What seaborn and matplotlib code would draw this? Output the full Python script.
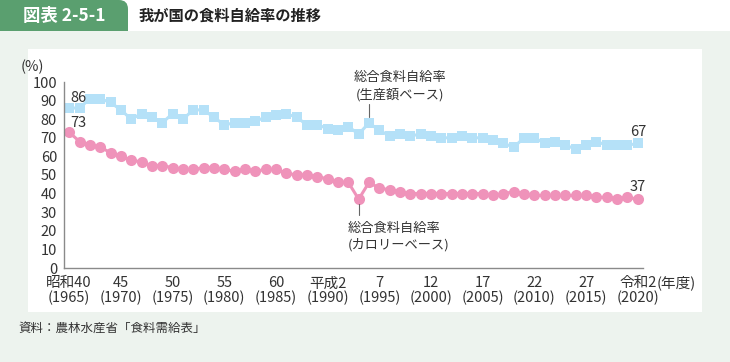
import matplotlib

matplotlib.use("Agg")
import matplotlib.pyplot as plt
import seaborn as sns
from matplotlib.patches import PathPatch, Rectangle
from matplotlib.path import Path
from matplotlib.ticker import FixedLocator

# Data (fiscal years, %)
years = list(range(1965, 2021))
production_basis = [
    86, 86, 91, 91, 89, 85, 80, 83, 81, 78,
    83, 80, 85, 85, 81, 77, 78, 78, 79, 81,
    82, 83, 81, 77, 77, 75, 74, 76, 72, 78,
    74, 71, 72, 71, 72, 71, 70, 70, 71, 70,
    70, 69, 67, 65, 70, 70, 67, 68, 66, 64,
    66, 68, 66, 66, 66, 67,
]
calorie_basis = [
    73, 68, 66, 65, 62, 60, 58, 57, 55, 55,
    54, 53, 53, 54, 54, 53, 52, 53, 52, 53,
    53, 51, 50, 50, 49, 48, 46, 46, 37, 46,
    43, 42, 41, 40, 40, 40, 40, 40, 40, 40,
    40, 39, 40, 41, 40, 39, 39, 39, 39, 39,
    39, 38, 38, 37, 38, 37,
]
label_years = [1965, 1970, 1975, 1980, 1985, 1990, 1995, 2000, 2005, 2010, 2015, 2020]
era_labels = ["昭和40", "45", "50", "55", "60", "平成2", "7", "12", "17", "22", "27", "令和2"]

BLUE = "#b5e1f8"
PINK = "#ef93ba"
GREEN = "#5a9f6f"
BG = "#edf3ee"
TEXT = "#333333"
AXIS = "#8a8a8a"

sns.set_style("white")
plt.rcParams["font.family"] = ["Noto Sans CJK JP", "DejaVu Sans"]

W, H = 730, 362
fig = plt.figure(figsize=(W / 100, H / 100), dpi=100, facecolor=BG)


def px(x, y):
    return x / W, 1 - y / H


# white header strip, tab, white chart panel
fig.patches.append(Rectangle(px(0, 31), 1, 31 / H, transform=fig.transFigure,
                             facecolor="white", edgecolor="none", zorder=0))
r = 9
verts = [px(0, 31), px(0, 0), px(128 - r, 0), px(128, 0), px(128, r), px(128, 31), px(0, 31)]
codes = [Path.MOVETO, Path.LINETO, Path.LINETO, Path.CURVE3, Path.CURVE3, Path.LINETO, Path.CLOSEPOLY]
fig.patches.append(PathPatch(Path(verts, codes), transform=fig.transFigure,
                             facecolor=GREEN, edgecolor="none", zorder=1))
fig.patches.append(Rectangle(px(28, 312), 674 / W, 263 / H, transform=fig.transFigure,
                             facecolor="white", edgecolor="none", zorder=0))

fig.text(*px(64, 16), "図表 2-5-1", color="white", fontsize=12.5, fontweight="bold",
         ha="center", va="center", zorder=3)
fig.text(*px(139, 16), "我が国の食料自給率の推移", color="#222222", fontsize=11,
         fontweight="bold", ha="left", va="center", zorder=3)
fig.text(*px(18, 328), "資料：農林水産省「食料需給表」", color=TEXT, fontsize=9,
         ha="left", va="center", zorder=3)

# axes: x from 64px to 643px, y 0 at 268px, 100 at 82px
ax = fig.add_axes([64 / W, 1 - 268 / H, 579 / W, 186 / H])
ax.set_zorder(5)
ax.set_facecolor("none")

sns.lineplot(x=years, y=production_basis, ax=ax, color=BLUE, linewidth=2.2,
             marker="s", markersize=7, markeredgewidth=0, clip_on=False)
sns.lineplot(x=years, y=calorie_basis, ax=ax, color=PINK, linewidth=2.2,
             marker="o", markersize=8, markeredgewidth=0, clip_on=False)

ax.set_xlim(1964.5, 2020.5)
ax.set_ylim(0, 100)
ax.set_xlabel("")
ax.set_ylabel("")

for s in ["top", "right"]:
    ax.spines[s].set_visible(False)
for s in ["left", "bottom"]:
    ax.spines[s].set_color(AXIS)
    ax.spines[s].set_linewidth(1.0)

ax.set_yticks(range(0, 101, 10))
ax.tick_params(axis="y", direction="out", length=3, width=0.8, color=AXIS,
               labelsize=10.5, labelcolor=TEXT, pad=2)
ax.set_xticks(label_years)
ax.set_xticklabels([f"{e}\n({y})" for e, y in zip(era_labels, label_years)],
                   linespacing=1.0)
ax.tick_params(axis="x", which="major", length=0, labelsize=10.5,
               labelcolor=TEXT, pad=6)
ax.xaxis.set_minor_locator(FixedLocator([y + 0.5 for y in years[:-1]] + [2020.5]))
ax.tick_params(axis="x", which="minor", direction="in", length=3, width=0.8,
               color=AXIS)

ax.text(-0.055, 1.08, "(%)", transform=ax.transAxes, fontsize=10.5, color=TEXT,
        ha="center", va="center")
ax.text(2021.8, -8.0, "(年度)", fontsize=10.5, color=TEXT, ha="left", va="center",
        clip_on=False)

# value labels
ax.text(1965.1, 91.5, str(production_basis[0]), fontsize=10.5, color=TEXT,
        ha="left", va="center")
ax.text(1965.1, 78, str(calorie_basis[0]), fontsize=10.5, color=TEXT,
        ha="left", va="center")
ax.text(2020, 73, str(production_basis[-1]), fontsize=10.5, color=TEXT,
        ha="center", va="center")
ax.text(2020, 43.5, str(calorie_basis[-1]), fontsize=10.5, color=TEXT,
        ha="center", va="center")

# series annotations
ax.plot([1994, 1994], [81.3, 88.3], color="#666666", linewidth=0.8)
ax.text(1997, 89.5, "総合食料自給率\n(生産額ベース)", fontsize=9.5, color=TEXT,
        ha="center", va="bottom", linespacing=1.35)
ax.plot([1993, 1993], [34.5, 28.5], color="#666666", linewidth=0.8)
ax.text(1991.9, 25, "総合食料自給率\n(カロリーベース)", fontsize=9.5, color=TEXT,
        ha="left", va="top", linespacing=1.35)

fig.savefig("out.png", dpi=100, facecolor=BG)
